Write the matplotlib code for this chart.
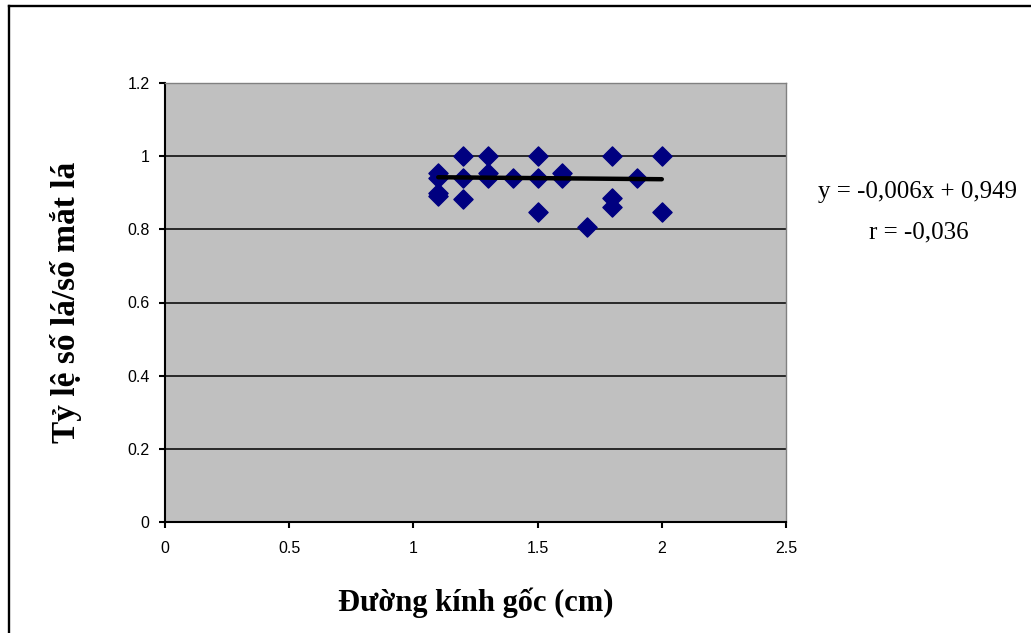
import matplotlib.pyplot as plt
from matplotlib.lines import Line2D
import numpy as np

# stem diameter (cm) vs leaf / node ratio
duong_kinh = [1.1, 1.1, 1.1, 1.1,
              1.2, 1.2, 1.2,
              1.3, 1.3, 1.3,
              1.4,
              1.5, 1.5, 1.5,
              1.6, 1.6,
              1.7,
              1.8, 1.8, 1.8,
              1.9,
              2.0, 2.0]
ty_le = [0.955, 0.94, 0.90, 0.89,
         1.0, 0.94, 0.883,
         1.0, 0.955, 0.94,
         0.94,
         1.0, 0.94, 0.848,
         0.955, 0.94,
         0.807,
         1.0, 0.886, 0.862,
         0.94,
         1.0, 0.848]

slope = -0.006
intercept = 0.949
r_value = -0.036

W, H = 1031, 633
fig = plt.figure(figsize=(W / 100, H / 100), dpi=100)
fig.patch.set_facecolor('white')

# chart frame: only top and left edges sit inside the image
fig.lines.append(Line2D([8.5 / W, 8.5 / W], [0, 1 - 6 / H], transform=fig.transFigure,
                        color='black', linewidth=1.7))
fig.lines.append(Line2D([8.5 / W, 1], [1 - 6 / H, 1 - 6 / H], transform=fig.transFigure,
                        color='black', linewidth=1.7))

ax = fig.add_axes([165 / W, (H - 522) / H, 621 / W, 439 / H])
ax.set_facecolor('#C0C0C0')

ax.set_xlim(0, 2.5)
ax.set_ylim(0, 1.2)
ax.set_xticks([0, 0.5, 1, 1.5, 2, 2.5])
ax.set_xticklabels(['0', '0.5', '1', '1.5', '2', '2.5'])
ax.set_yticks([0, 0.2, 0.4, 0.6, 0.8, 1, 1.2])
ax.set_yticklabels(['0', '0.2', '0.4', '0.6', '0.8', '1', '1.2'])

for yv in [0.2, 0.4, 0.6, 0.8, 1.0]:
    ax.axhline(yv, color='black', linewidth=1.1, zorder=1)

ax.scatter(duong_kinh, ty_le, marker='D', s=95, color='#000080',
           edgecolor='#000080', zorder=3)

xs = np.array([min(duong_kinh), max(duong_kinh)])
ax.plot(xs, slope * xs + intercept, color='black', linewidth=3.2,
        solid_capstyle='round', zorder=4)

for side in ['top', 'right']:
    ax.spines[side].set_color('#808080')
    ax.spines[side].set_linewidth(1.0)
for side in ['left', 'bottom']:
    ax.spines[side].set_color('black')
    ax.spines[side].set_linewidth(1.5)

ax.tick_params(direction='out', length=4, width=1.5, colors='black',
               labelsize=11.5)
ax.tick_params(axis='x', pad=10)
ax.tick_params(axis='y', pad=7)
for lbl in ax.get_xticklabels() + ax.get_yticklabels():
    lbl.set_family('Liberation Sans')

ax.set_xlabel('Đường kính gốc (cm)', family='Liberation Serif',
              fontweight='bold', fontsize=22, labelpad=22)
ax.set_ylabel('Tỷ lệ số lá/số mắt lá', family='Liberation Serif',
              fontweight='bold', fontsize=24, labelpad=33)

fig.text(917 / W, 1 - 192 / H, 'y = -0,006x + 0,949',
         family='Liberation Serif', fontsize=18, ha='center', va='center')
fig.text(919 / W, 1 - 232 / H, 'r = -0,036',
         family='Liberation Serif', fontsize=18, ha='center', va='center')

fig.savefig('out.png', dpi=100)
